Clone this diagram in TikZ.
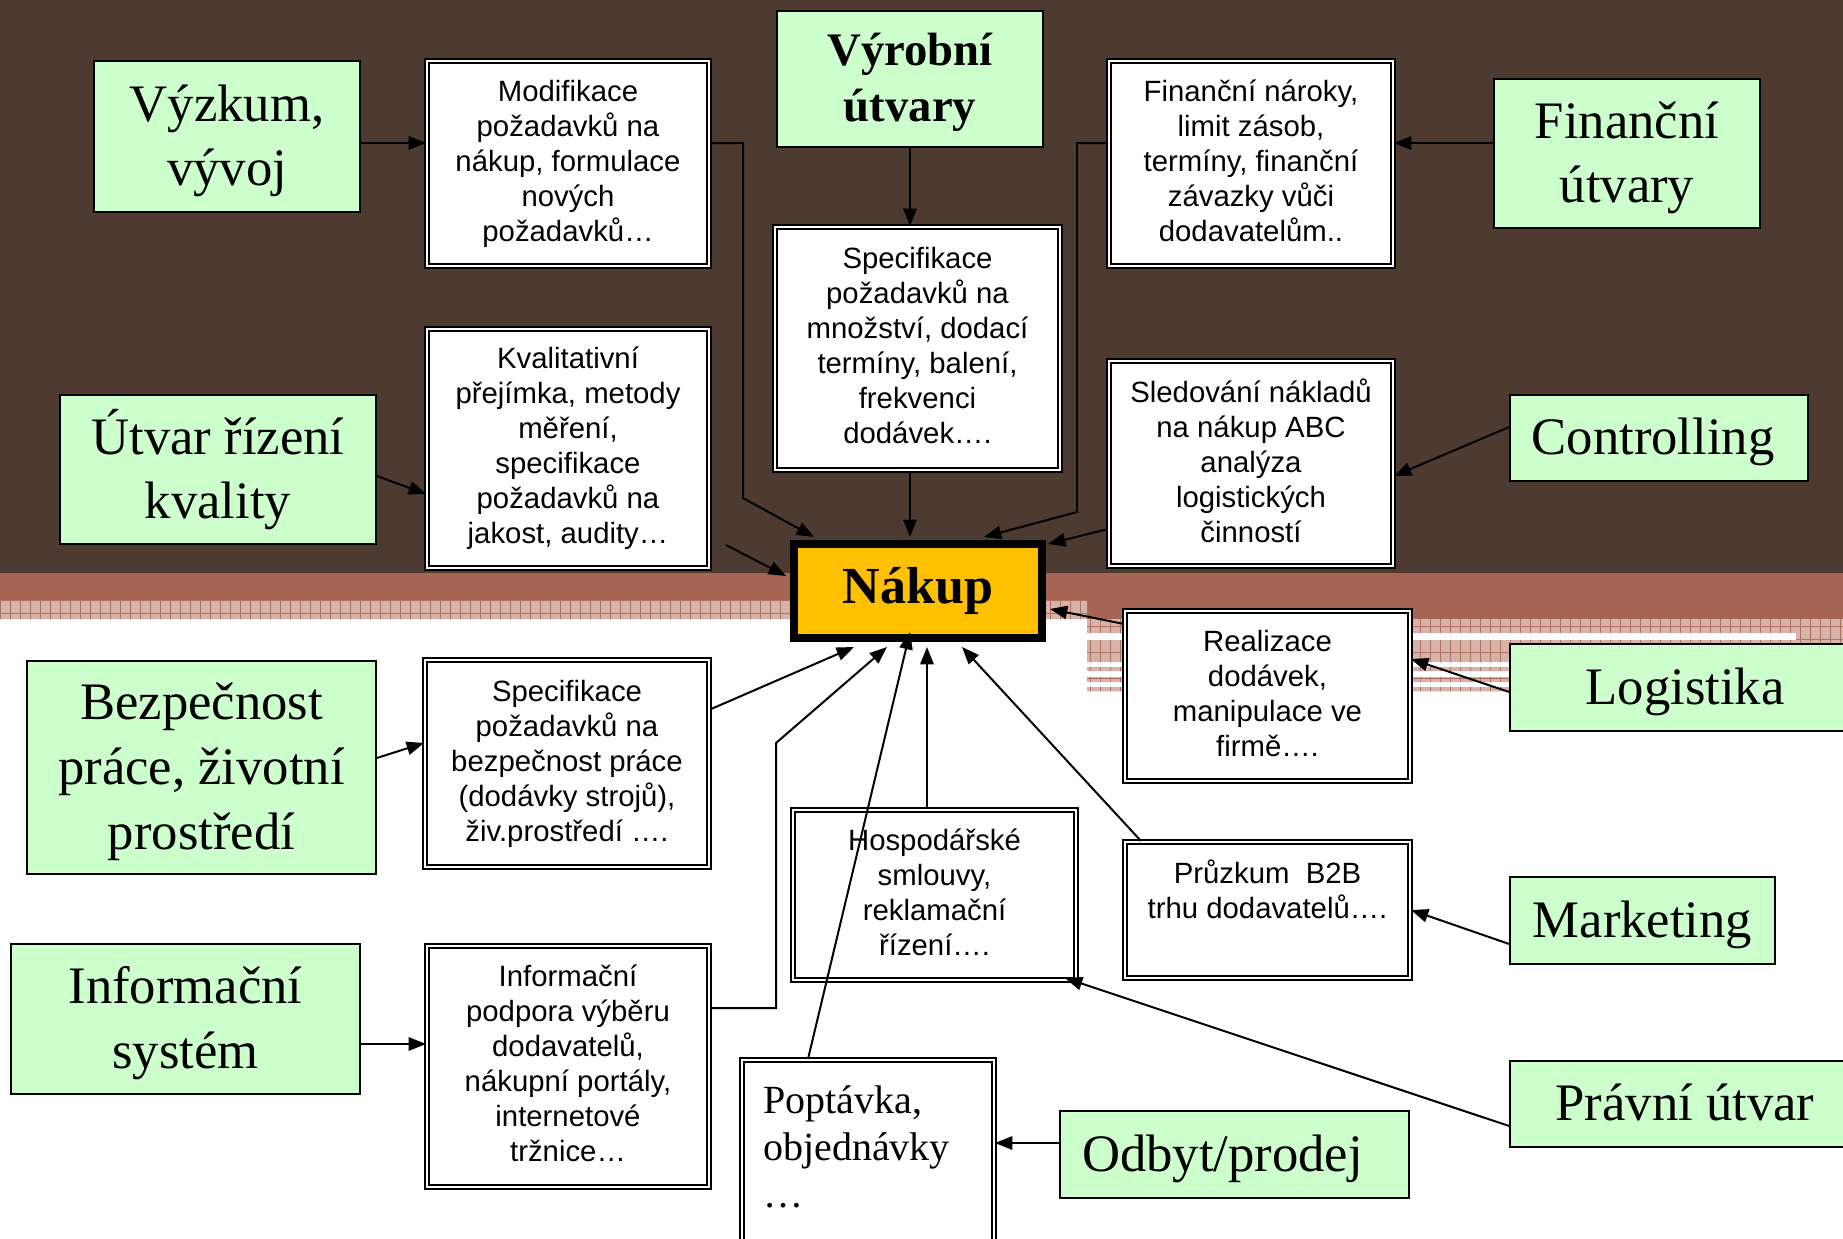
\documentclass[tikz,border=0pt]{standalone}
\usepackage{fontspec}
\setmainfont{Liberation Serif}
\newfontfamily\arialf{Liberation Sans}
\usetikzlibrary{arrows.meta,calc}
\definecolor{bgdark}{RGB}{77,59,49}
\definecolor{bgred}{RGB}{165,101,82}
\definecolor{chk}{RGB}{214,180,170}
\definecolor{chkline}{RGB}{178,112,96}
\definecolor{gfill}{RGB}{204,255,204}
\definecolor{nakupfill}{RGB}{255,192,0}
\newcommand\gtop{\vphantom{Ú}}
\newcommand\gbot{\vphantom{y}}
\newcommand\wbot{\vphantom{p}}
\begin{document}
\begin{tikzpicture}[x=0.75pt,y=-0.75pt,
  sz/.style 2 args={minimum width=#1*0.75pt, minimum height=#2*0.75pt},
  gbox/.style={draw=black, line width=1.2pt, fill=gfill, align=center, inner sep=0pt,
     font=\fontsize{39.5}{48.5}\selectfont},
  wbox/.style={draw=black, fill=white, line width=1.5pt, double=white, double distance=1.5pt,
     align=center, inner sep=0pt, font=\arialf\fontsize{22}{26.25}\selectfont},
  conn/.style={draw=black, line width=1.5pt, -{Triangle[length=13pt,width=10pt]}},
  chkgrid/.style={chkline, line width=0.5pt}
]
\useasboundingbox (0,0) rectangle (1843,1239);
\clip (0,0) rectangle (1843,1239);
% background
\fill[white] (0,0) rectangle (1843,1239);
\fill[bgdark] (0,0) rectangle (1843,573);
\fill[bgred] (0,573) rectangle (1087,600);
\fill[bgred] (1087,573) rectangle (1843,619);
\begin{scope}
  \clip (0,600) rectangle (1087,619)
        (1087,619) rectangle (1843,633)
        (1087,640) rectangle (1843,662)
        (1796,633) rectangle (1843,640)
        (1087,667) rectangle (1510,671)
        (1087,677) rectangle (1510,682)
        (1087,687) rectangle (1510,691);
  \fill[chk] (0,600) rectangle (1843,700);
  \foreach \i in {0,10,...,1840} \draw[chkgrid] (\i,600) -- (\i,700);
  \foreach \j in {600,613,...,700} \draw[chkgrid] (0,\j) -- (1843,\j);
\end{scope}

% green boxes
\node[gbox, sz={266}{151}] (vyzkum) at (227,136.5) {\gtop Výzkum,\\vývoj\gbot};
\node[gbox, sz={316}{149}] (kvalita) at (218,469.5) {\gtop Útvar řízení\\kvality\gbot};
\node[gbox, sz={349}{213}] (bezp) at (201.5,767.5) {\gtop Bezpečnost\\práce, životní\\prostředí\gbot};
\node[gbox, sz={349}{150}] (infsys) at (185.5,1019) {\gtop Informační\\systém\gbot};
\node[gbox, sz={266}{136}, font=\bfseries\fontsize{35}{42}\selectfont] (vyrob) at (910,79) {\gtop Výrobní\\útvary\gbot};
\node[gbox, sz={266}{149}] (financni) at (1627,153.5) {\gtop Finanční\\útvary\gbot};
\node[gbox, sz={298}{86}] (controlling) at (1659,438) {\gtop Controlling\gbot\hspace*{9pt}};
\node[gbox, sz={350}{87}] (logistika) at (1685,687.5) {\gtop Logistika\gbot};
\node[gbox, sz={265}{87}] (marketing) at (1642.5,920.5) {\gtop Marketing\gbot};
\node[gbox, sz={350}{86}] (pravni) at (1685,1104) {\gtop Právní útvar\gbot};
\node[gbox, sz={349}{87}] (odbyt) at (1234.5,1154.5) {\gtop Odbyt/prodej\gbot\hspace*{18pt}};

% white boxes
\node[wbox, sz={282}{205}] (modif) at (568,163.5) {Modifikace\\požadavků na\\nákup, formulace\\nových\\požadavků…\wbot};
\node[wbox, sz={282}{239}] (kval) at (568,448.5) {Kvalitativní\\přejímka, metody\\měření,\\specifikace\\požadavků na\\jakost, audity…\wbot};
\node[wbox, sz={285}{243}] (specmid) at (917.5,348.5) {Specifikace\\požadavků na\\množství, dodací\\termíny, balení,\\frekvenci\\dodávek….\wbot};
\node[wbox, sz={284}{205}] (finnar) at (1251,163.5) {Finanční nároky,\\limit zásob,\\termíny, finanční\\závazky vůči\\dodavatelům..\wbot};
\node[wbox, sz={284}{205}] (sled) at (1251,463.5) {Sledování nákladů\\na nákup ABC\\analýza\\logistických\\činností\wbot};
\node[wbox, sz={285}{170}] (realiz) at (1267.5,696) {Realizace\\dodávek,\\manipulace ve\\firmě….\wbot};
\node[wbox, sz={284}{207}] (specbez) at (567,763.5) {Specifikace\\požadavků na\\bezpečnost práce\\(dodávky strojů),\\živ.prostředí ….\wbot};
\node[wbox, sz={283}{170}] (hosp) at (934.5,895) {Hospodářské\\smlouvy,\\reklamační\\řízení….\wbot};
\node[wbox, sz={285}{136}] (pruzkum) at (1267.5,910) {Průzkum\ \ B2B\\trhu dodavatelů….\\\mbox{}\wbot};
\node[wbox, sz={282}{241}] (infpod) at (568,1066.5) {Informační\\podpora výběru\\dodavatelů,\\nákupní portály,\\internetové\\tržnice…\wbot};
\node[wbox, sz={252}{210}] (poptavka) at (868,1165) {};
\node[anchor=north west, inner sep=0pt, align=left, font=\fontsize{30}{35.25}\selectfont] (poptxt) at (763,1085) {Poptávka,\\objednávky\\…};

% Nakup
\node[draw=black, line width=6pt, fill=nakupfill, sz={248}{94}, inner sep=0pt,
      font=\bfseries\fontsize{39}{46}\selectfont] (nakup) at (918,591) {Nákup};

\coordinate (kvalout) at (726,545);

% connectors
\draw[conn] (vyzkum.east |- 0,143) -- (modif.west |- 0,143);
\draw[conn] (modif.east |- 0,143) -- (743,143) -- (743,498) -- ($(nakup.north west)+(24,-3)$);
\draw[conn] (kvalout) -- ($(nakup.west)+(-4,-15)$);
\draw[conn] ($(kvalita.east)+(0,6.5)$) -- ($(kval.west)+(0,45.5)$);
\draw[conn] (vyrob.south) -- (vyrob.south |- specmid.north);
\draw[conn] (specmid.south -| vyrob.south) -- ($(nakup.north -| vyrob.south)+(0,-3)$);
\draw[conn] (financni.west |- 0,143) -- (finnar.east |- 0,143);
\draw[conn] (finnar.west |- 0,143) -- (1077,143) -- (1077,512) -- ($(nakup.north east)+(-62,-3)$);
\draw[conn] (sled.west |- 0,529) -- ($(nakup.north east)+(2,4)$);
\draw[conn] ($(controlling.west)+(0,-11)$) -- ($(sled.east)+(0,12.5)$);
\draw[conn] ($(realiz.west)+(0,-72)$) -- ($(nakup.east)+(4,18)$);
\draw[conn] ($(logistika.west)+(0,4.5)$) -- ($(realiz.east)+(0,-37)$);
\draw[conn] ($(specbez.east)+(0,-54)$) -- ($(nakup.south west)+(64,5)$);
\draw[conn] (infpod.east |- 0,1008) -- (776,1008) -- (776,743) -- ($(nakup.south west)+(97,5)$);
\draw[conn] ($(bezp.east)+(0,-9.5)$) -- ($(specbez.west)+(0,-20.5)$);
\draw[conn] (infsys.east |- 0,1044) -- (infpod.west |- 0,1044);
\draw[conn] ($(poptavka.north west)+(67,0)$) -- ($(nakup.south)+(-8,-10)$);
\draw[conn] ($(hosp.north)+(-7.5,0)$) -- ($(nakup.south)+(9,5)$);
\draw[conn] ($(pruzkum.north west)+(17,0)$) -- ($(nakup.south)+(44,5)$);
\draw[conn] ($(marketing.west)+(0,23.5)$) -- (pruzkum.east);
\draw[conn] ($(pravni.west)+(0,22)$) -- ($(hosp.south east)+(-12,-3)$);
\draw[conn] (odbyt.west |- 0,1143) -- (poptavka.east |- 0,1143);
\end{tikzpicture}
\end{document}
